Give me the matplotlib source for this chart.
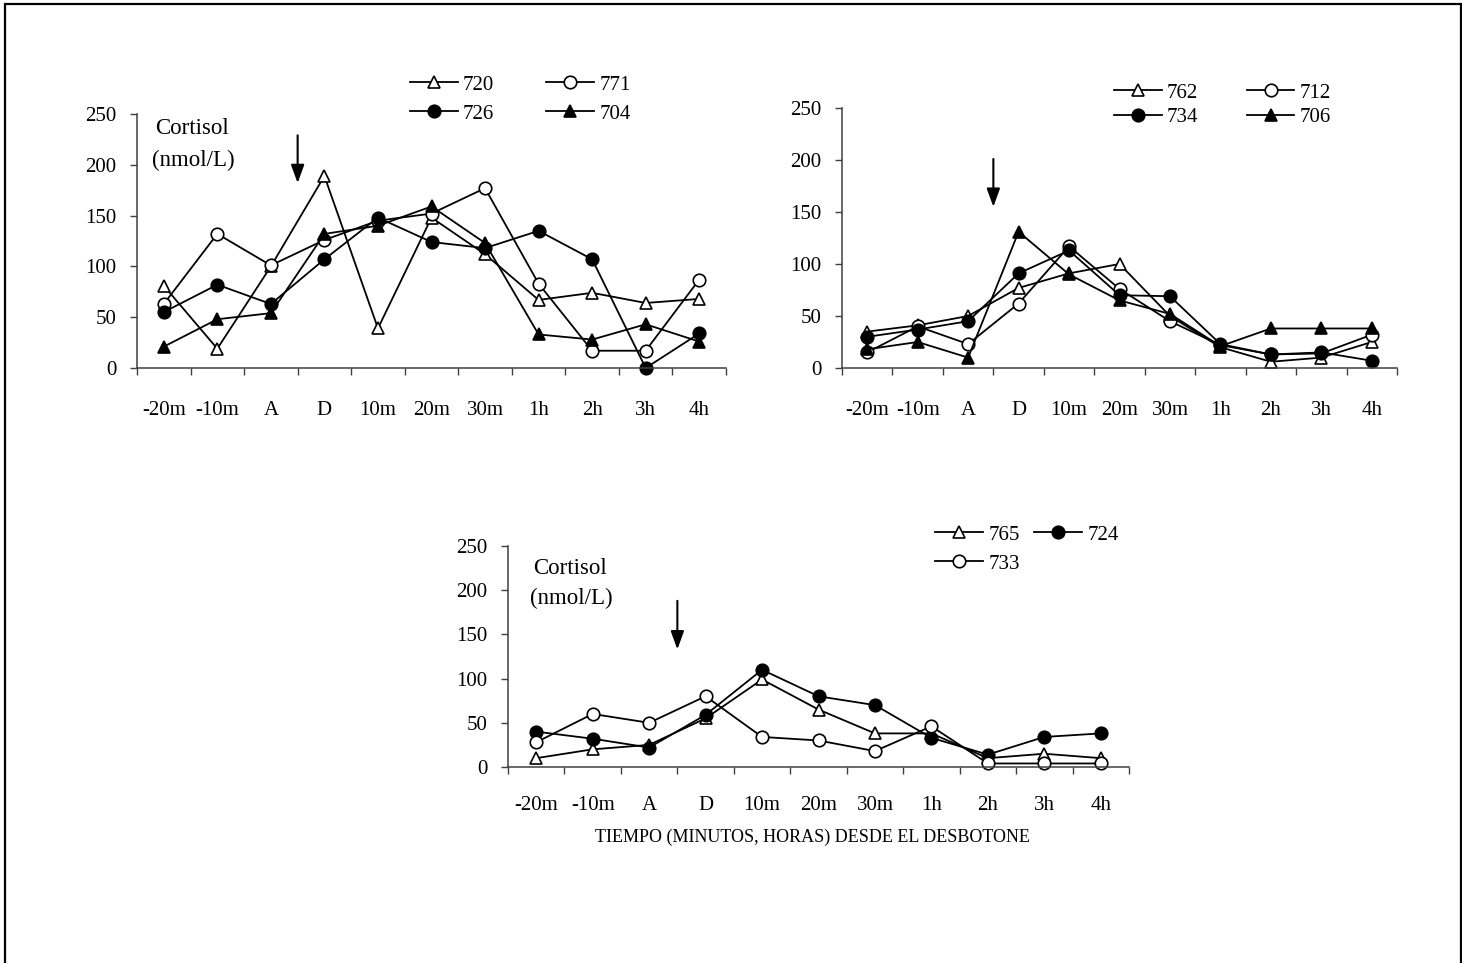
import numpy as np
import matplotlib.pyplot as plt

plt.rcParams['font.family'] = ['Liberation Serif', 'DejaVu Serif']

categories = ['-20m', '-10m', 'A', 'D', '10m', '20m', '30m', '1h', '2h', '3h', '4h']

# group 1
s720 = [81, 19, 100, 189, 39, 148, 112, 67, 74, 64, 68]
s771 = [63, 132, 101, 126, 145, 152, 177, 83, 17, 17, 87]
s726 = [55, 82, 63, 107, 148, 124, 118, 135, 107, 0, 34]
s704 = [21, 48, 54, 132, 140, 159, 123, 33, 28, 43, 26]

# group 2
s762 = [35, 41, 50, 77, 91, 100, 50, 20, 6, 10, 25]
s712 = [15, 40, 23, 62, 117, 76, 45, 22, 13, 14, 32]
s734 = [30, 37, 45, 91, 113, 70, 69, 23, 13, 15, 7]
s706 = [18, 25, 10, 131, 90, 65, 52, 21, 38, 38, 38]

# group 3
s765 = [10, 20, 25, 55, 99, 65, 38, 38, 10, 15, 10]
s724 = [40, 32, 22, 59, 110, 80, 70, 33, 14, 34, 38]
s733 = [28, 60, 50, 80, 34, 30, 18, 46, 4, 4, 4]

W, H = 1462, 963
FS = 15
AXC = '#404040'

fig = plt.figure(figsize=(W / 100, H / 100), dpi=100)

# frame around the whole page
fig.add_artist(plt.Rectangle((5 / W, -0.01), (1461 - 5) / W, 1.01 - 4 / H,
                             transform=fig.transFigure, fill=False,
                             edgecolor='black', lw=1.6))

styles = {
    'open_tri': dict(marker='^', mfc='white'),
    'open_circ': dict(marker='o', mfc='white'),
    'fill_circ': dict(marker='o', mfc='black'),
    'fill_tri': dict(marker='^', mfc='black'),
}


def px_axes(x0, x1, y0, y250):
    # x0/x1: left/right of x axis, y0: pixel row of 0, y250: pixel row of 250
    return fig.add_axes([x0 / W, (H - y0) / H, (x1 - x0) / W, (y0 - y250) / H])


def setup(ax, xpad):
    x = np.arange(len(categories))
    ax.set_xlim(-0.5, len(categories) - 0.5)
    ax.set_ylim(0, 250)
    ax.set_yticks([0, 50, 100, 150, 200, 250])
    ax.set_xticks(np.arange(-0.5, len(categories), 1.0))
    ax.set_xticklabels([])
    ax.set_xticks(x, minor=True)
    ax.set_xticklabels(categories, minor=True)
    ax.tick_params(axis='x', which='major', direction='out', length=5, width=1, color=AXC)
    ax.tick_params(axis='x', which='minor', length=0, pad=xpad, labelsize=FS)
    ax.tick_params(axis='y', direction='out', length=5, width=1, color=AXC, pad=10, labelsize=FS)
    for s in ['top', 'right']:
        ax.spines[s].set_visible(False)
    for s in ['left', 'bottom']:
        ax.spines[s].set_color(AXC)
        ax.spines[s].set_linewidth(1.1)
    ax.patch.set_alpha(0)


def draw(ax, series):
    x = np.arange(len(categories))
    handles = {}
    for name, vals, st in series:
        h, = ax.plot(x, vals, color='black', lw=1.3, ms=9, mec='black', mew=1.2,
                     clip_on=False, label=name, **styles[st])
        handles[name] = h
    return handles


def arrow(ax, ytop, ytip):
    ax.annotate('', xy=(2.5, ytip), xytext=(2.5, ytop),
                arrowprops=dict(arrowstyle='-|>,head_length=1.1,head_width=0.4',
                                color='black', lw=1.5, shrinkA=0, shrinkB=0))


def legend(ax, handles, order, x, y, colsp, labsp):
    ax.legend([handles[k] for k in order], order, ncol=2, frameon=False,
              loc='upper left', bbox_to_anchor=(x / W, 1 - y / H),
              bbox_transform=fig.transFigure, borderpad=0, borderaxespad=0,
              handlelength=2.3, handletextpad=0.25, columnspacing=colsp,
              labelspacing=labsp, fontsize=FS)


def unit_label(x, y1, y2):
    fig.text(x / W, 1 - y1 / H, 'Cortisol', fontsize=16.5, va='center')
    fig.text((x - 3) / W, 1 - y2 / H, '(nmol/L)', fontsize=16.5, va='center')


# top left
ax1 = px_axes(137, 726, 368, 114)
setup(ax1, 24)
h1 = draw(ax1, [('720', s720, 'open_tri'), ('771', s771, 'open_circ'),
                ('726', s726, 'fill_circ'), ('704', s704, 'fill_tri')])
arrow(ax1, 229, 182)
unit_label(155, 128, 160)
legend(ax1, h1, ['720', '726', '771', '704'], 410, 75, 2.5, 0.45)

# top right
ax2 = px_axes(842, 1397, 368, 108)
setup(ax2, 24)
h2 = draw(ax2, [('762', s762, 'open_tri'), ('712', s712, 'open_circ'),
                ('734', s734, 'fill_circ'), ('706', s706, 'fill_tri')])
arrow(ax2, 201, 155)
legend(ax2, h2, ['762', '734', '712', '706'], 1114, 83, 2.3, 0.25)

# bottom
ax3 = px_axes(508, 1129, 767, 546)
setup(ax3, 21)
h3 = draw(ax3, [('765', s765, 'open_tri'), ('724', s724, 'fill_circ'),
                ('733', s733, 'open_circ')])
arrow(ax3, 188, 133)
unit_label(533, 568, 598)
legend(ax3, h3, ['765', '733', '724'], 935, 525, 0.7, 0.45)

fig.text(812 / W, 1 - 837 / H, 'TIEMPO (MINUTOS, HORAS) DESDE EL DESBOTONE',
         fontsize=13, ha='center', va='center')

fig.savefig('out.png', dpi=100)
